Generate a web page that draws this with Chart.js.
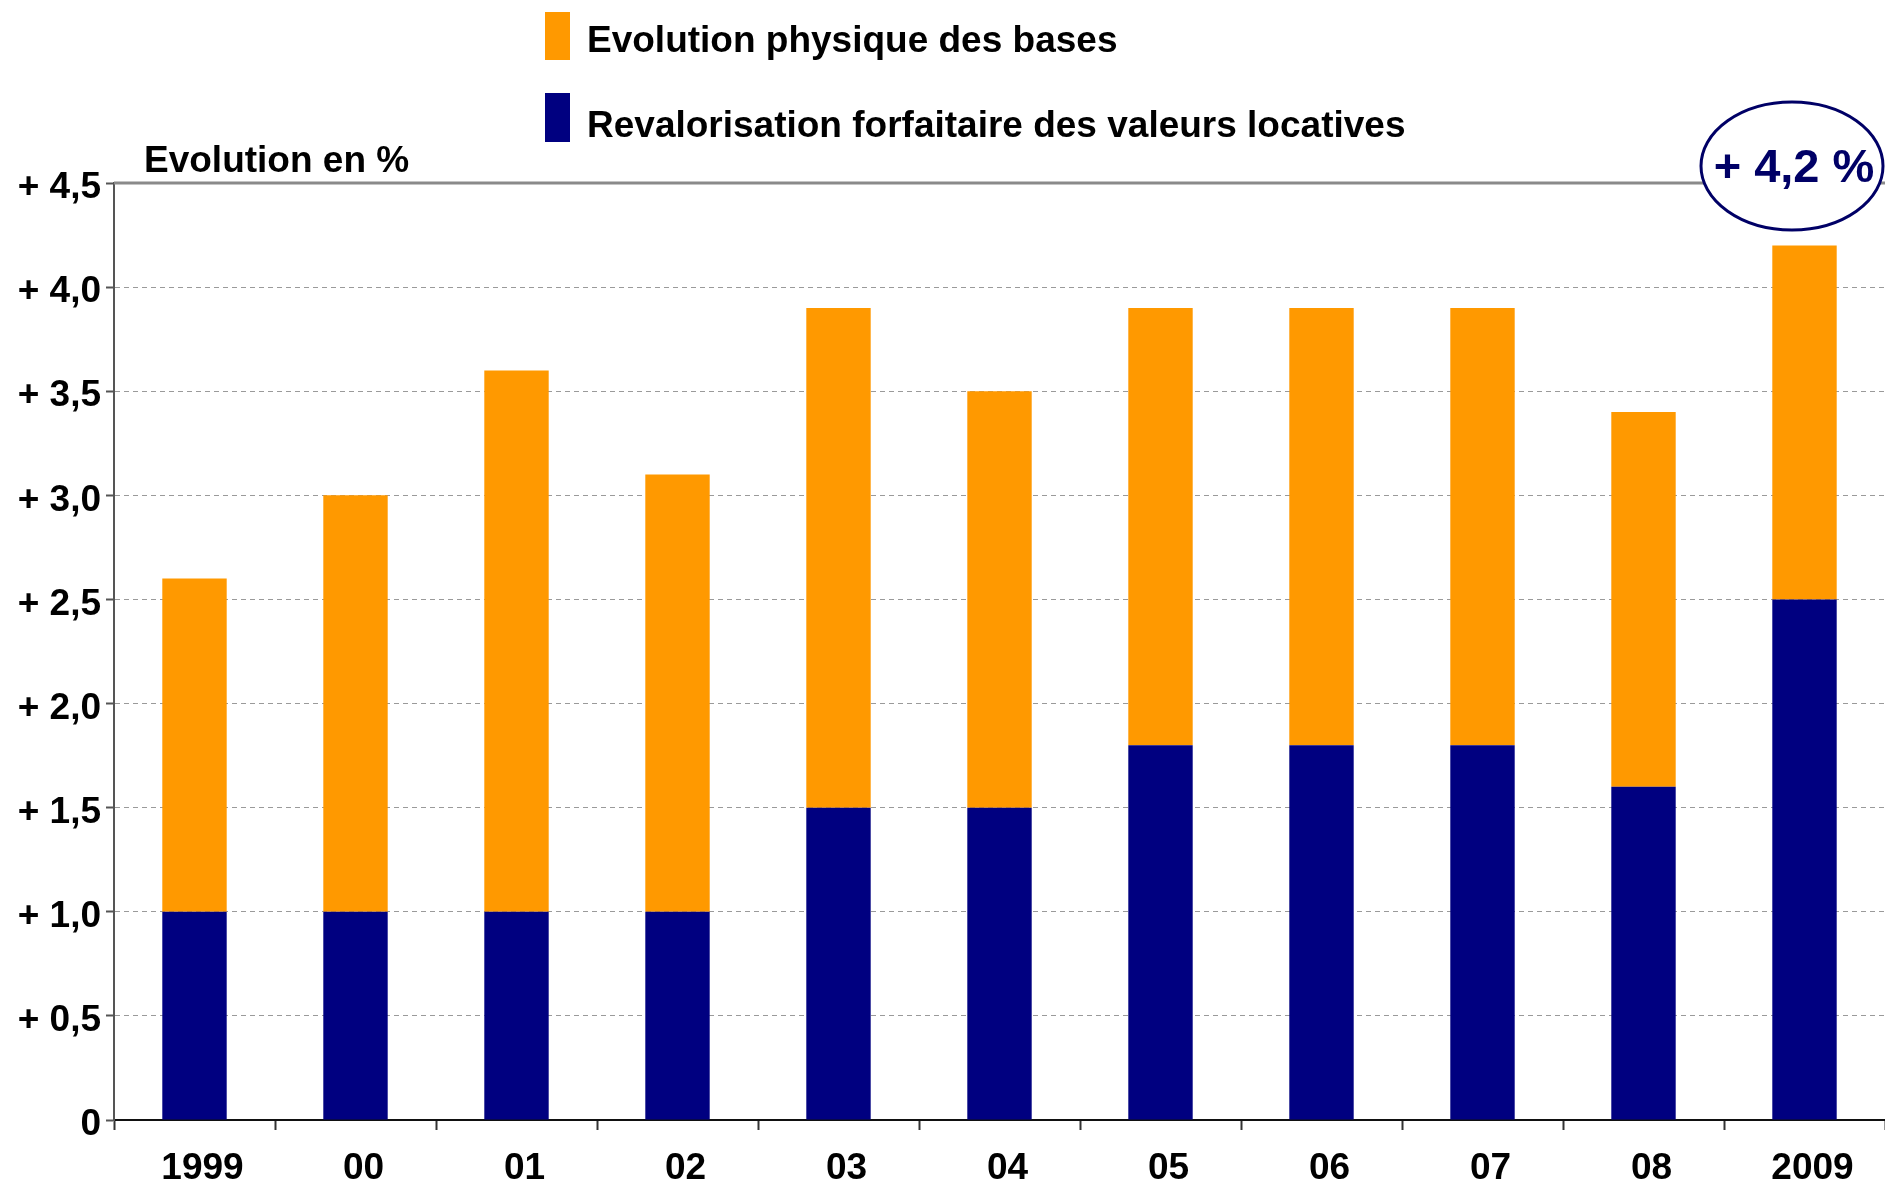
<!DOCTYPE html>
<html>
<head>
<style>
  body { margin: 0; background-color: white; }
</style>
<script src="https://cdn.jsdelivr.net/npm/chart.js@4/dist/chart.umd.min.js"></script>
</head>
<body>
<canvas id="evol" width="1885" height="1183"></canvas>
<script>
var years = ["1999", "00", "01", "02", "03", "04", "05", "06", "07", "08", "2009"];
// revalorisation forfaitaire (bas de barre)
var revalo = [1.0, 1.0, 1.0, 1.0, 1.5, 1.5, 1.8, 1.8, 1.8, 1.6, 2.5];
// evolution physique (haut de barre)
var physique = [1.6, 2.0, 2.6, 2.1, 2.4, 2.0, 2.1, 2.1, 2.1, 1.8, 1.7];
var yLabels = ["0", "+ 0,5", "+ 1,0", "+ 1,5", "+ 2,0", "+ 2,5", "+ 3,0", "+ 3,5", "+ 4,0", "+ 4,5"];
var legendNames = ["Evolution physique des bases", "Revalorisation forfaitaire des valeurs locatives"];
var axisTitle = "Evolution en %";
var bubbleText = "+ 4,2 %";

var ORANGE = '#FF9900';
var NAVY = '#000080';
var FONT = '"Liberation Sans", Arial, sans-serif';

var decor = {
    id: 'decor',
    afterDraw: function(chart) {
        var ctx = chart.ctx;
        var area = chart.chartArea;
        ctx.save();

        // trait plein en haut (4,5)
        ctx.strokeStyle = '#8a8a8a';
        ctx.lineWidth = 3;
        ctx.beginPath();
        ctx.moveTo(area.left, area.top);
        ctx.lineTo(area.right, area.top);
        ctx.stroke();

        // legende
        ctx.fillStyle = ORANGE;
        ctx.fillRect(545, 12, 25, 48);
        ctx.fillStyle = NAVY;
        ctx.fillRect(545, 93, 25, 49);
        ctx.fillStyle = 'black';
        ctx.font = 'bold 37px ' + FONT;
        ctx.textBaseline = 'middle';
        ctx.textAlign = 'left';
        ctx.fillText(legendNames[0], 587, 42);
        ctx.fillText(legendNames[1], 587, 127);
        ctx.fillText(axisTitle, 144, 162);

        // bulle + 4,2 %
        ctx.beginPath();
        ctx.ellipse(1792, 166, 91, 64, 0, 0, Math.PI * 2);
        ctx.fillStyle = 'white';
        ctx.fill();
        ctx.lineWidth = 3;
        ctx.strokeStyle = '#000066';
        ctx.stroke();
        ctx.fillStyle = '#000066';
        ctx.font = 'bold 47px ' + FONT;
        ctx.textAlign = 'center';
        ctx.fillText(bubbleText, 1794, 169);

        ctx.restore();
    }
};

const config = {
    type: 'bar',
    data: {
        labels: years,
        datasets: [{
            label: legendNames[1],
            data: revalo,
            backgroundColor: NAVY,
            barPercentage: 0.40,
            categoryPercentage: 1.0
        }, {
            label: legendNames[0],
            data: physique,
            backgroundColor: ORANGE,
            barPercentage: 0.40,
            categoryPercentage: 1.0
        }]
    },
    options: {
        responsive: false,
        animation: false,
        layout: {
            padding: { top: 183, left: 0, right: 0, bottom: 0 }
        },
        plugins: {
            legend: { display: false },
            tooltip: { enabled: false }
        },
        scales: {
            x: {
                stacked: true,
                afterFit: function(scale) { scale.height = 63; },
                grid: {
                    drawOnChartArea: false,
                    drawTicks: true,
                    tickLength: 10,
                    tickColor: '#333333',
                    tickWidth: 2
                },
                border: { display: true, color: '#111111', width: 2 },
                ticks: {
                    color: 'black',
                    padding: 17,
                    labelOffset: 8,
                    font: { family: FONT, size: 37, weight: 'bold' }
                }
            },
            y: {
                stacked: true,
                min: 0,
                max: 4.5,
                afterFit: function(scale) { scale.width = 114; },
                grid: {
                    color: '#9a9a9a',
                    lineWidth: 1,
                    drawTicks: true,
                    tickLength: 8,
                    tickColor: '#555555',
                    tickWidth: 2
                },
                border: { display: true, color: '#555555', width: 2, dash: [5, 4] },
                ticks: {
                    stepSize: 0.5,
                    color: 'black',
                    padding: 5,
                    labelOffset: 5,
                    font: { family: FONT, size: 37, weight: 'bold' },
                    callback: function(value, index) { return yLabels[index]; }
                }
            }
        }
    },
    plugins: [decor]
};

new Chart(document.getElementById('evol'), config);
</script>
</body>
</html>
